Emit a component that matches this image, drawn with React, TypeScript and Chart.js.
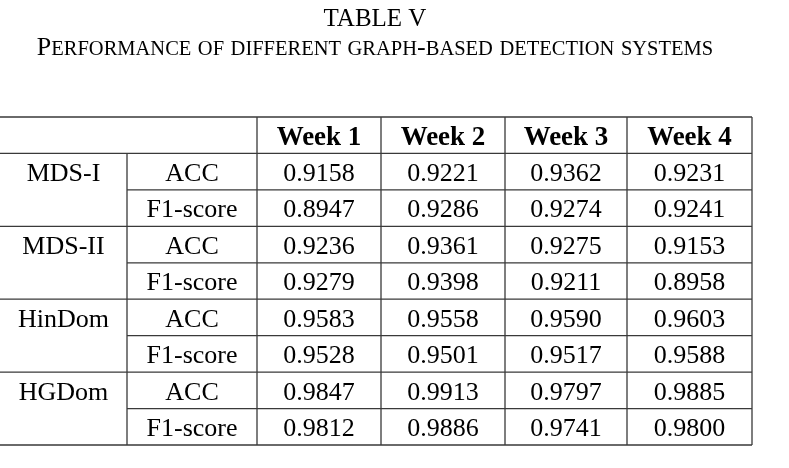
import React, { useEffect, useRef } from 'react';
import { Chart, registerables } from 'chart.js';

Chart.register(...registerables);

// ---- data ----
const tableNumber = 'TABLE V';
const caption = 'Performance of different graph-based detection systems';
const weeks = ['Week 1', 'Week 2', 'Week 3', 'Week 4'];
const systems = ['MDS-I', 'MDS-II', 'HinDom', 'HGDom'];
const metrics = ['ACC', 'F1-score'];
const mdsIAcc = [0.9158, 0.9221, 0.9362, 0.9231];
const mdsIF1 = [0.8947, 0.9286, 0.9274, 0.9241];
const mdsIIAcc = [0.9236, 0.9361, 0.9275, 0.9153];
const mdsIIF1 = [0.9279, 0.9398, 0.9211, 0.8958];
const hinDomAcc = [0.9583, 0.9558, 0.959, 0.9603];
const hinDomF1 = [0.9528, 0.9501, 0.9517, 0.9588];
const hgDomAcc = [0.9847, 0.9913, 0.9797, 0.9885];
const hgDomF1 = [0.9812, 0.9886, 0.9741, 0.98];
const seriesBySystem = [
  [mdsIAcc, mdsIF1],
  [mdsIIAcc, mdsIIF1],
  [hinDomAcc, hinDomF1],
  [hgDomAcc, hgDomF1],
];

// ---- layout (styles / sizes) ----
const COL_WIDTHS = [127, 130, 124, 124, 122, 125];
const FONT = '"Liberation Serif", "Times New Roman", serif';
const CELL_SIZE = 26;
const HEAD_SIZE = 27;
const LINE_COLOR = '#3a3a3a';
const LINE_WIDTH = 1.3;
const CAPTION_CENTER = 375;

const colEdges: number[] = [0];
COL_WIDTHS.forEach((w, i) => colEdges.push(colEdges[i] + w));
const colCenter = (i: number) => (colEdges[i] + colEdges[i + 1]) / 2;
const ROWS = 1 + systems.length * metrics.length;

type Cell = { x: number; y: number; text: string; bold?: boolean };

function buildCells(): Cell[] {
  const cells: Cell[] = [];
  weeks.forEach((w, i) => cells.push({ x: colCenter(2 + i), y: 0.5, text: w, bold: true }));
  systems.forEach((s, g) => {
    const r0 = 1 + g * metrics.length;
    cells.push({ x: colCenter(0), y: r0 + 0.5, text: s });
    metrics.forEach((m, k) => {
      const r = r0 + k;
      cells.push({ x: colCenter(1), y: r + 0.5, text: m });
      seriesBySystem[g][k].forEach((v, i) => {
        cells.push({ x: colCenter(2 + i), y: r + 0.5, text: v.toFixed(4) });
      });
    });
  });
  return cells;
}

const tablePlugin = {
  id: 'tablePlugin',
  beforeDatasetsDraw(chart: any) {
    const { ctx, scales } = chart;
    const xs = scales.x;
    const ys = scales.y;
    const X = (v: number) => xs.getPixelForValue(v);
    const Y = (v: number) => ys.getPixelForValue(v);
    ctx.save();
    ctx.strokeStyle = LINE_COLOR;
    ctx.lineWidth = LINE_WIDTH;
    ctx.beginPath();
    for (let r = 0; r <= ROWS; r++) {
      const full = r <= 1 || (r - 1) % metrics.length === 0;
      const x0 = full ? colEdges[0] : colEdges[1];
      ctx.moveTo(X(x0), Y(r));
      ctx.lineTo(X(colEdges[colEdges.length - 1]), Y(r));
    }
    for (let c = 1; c < colEdges.length; c++) {
      const top = c === 1 ? 1 : 0;
      ctx.moveTo(X(colEdges[c]), Y(top));
      ctx.lineTo(X(colEdges[c]), Y(ROWS));
    }
    ctx.stroke();
    ctx.restore();
  },
  afterDatasetsDraw(chart: any) {
    const { ctx } = chart;
    const meta = chart.getDatasetMeta(0);
    const data = chart.data.datasets[0].data as Cell[];
    ctx.save();
    ctx.fillStyle = '#000';
    ctx.textAlign = 'center';
    ctx.textBaseline = 'alphabetic';
    meta.data.forEach((el: any, i: number) => {
      const d = data[i];
      const size = d.bold ? HEAD_SIZE : CELL_SIZE;
      ctx.font = `${d.bold ? 'bold ' : ''}${size}px ${FONT}`;
      ctx.fillText(d.text, el.x, el.y + CELL_SIZE * 0.36);
    });
    ctx.restore();
  },
  afterDraw(chart: any) {
    const { ctx } = chart;
    const cx = CAPTION_CENTER;
    ctx.save();
    ctx.fillStyle = '#000';
    ctx.textBaseline = 'alphabetic';
    ctx.textAlign = 'center';
    ctx.font = `25px ${FONT}`;
    ctx.fillText(tableNumber, cx, 26);
    const big = `26px ${FONT}`;
    const small = `20.5px ${FONT}`;
    const pieces: { t: string; f: string }[] = [];
    for (const ch of caption) {
      const isLower = ch !== ch.toUpperCase();
      pieces.push({ t: isLower ? ch.toUpperCase() : ch, f: isLower ? small : big });
    }
    let total = 0;
    const widths = pieces.map((p) => {
      ctx.font = p.f;
      const w = ctx.measureText(p.t).width;
      total += w;
      return w;
    });
    ctx.textAlign = 'left';
    let x = cx - total / 2;
    pieces.forEach((p, i) => {
      ctx.font = p.f;
      ctx.fillText(p.t, x, 55);
      x += widths[i];
    });
    ctx.restore();
  },
};

export default function App() {
  const ref = useRef<HTMLCanvasElement | null>(null);
  useEffect(() => {
    if (!ref.current) return;
    const totalW = colEdges[colEdges.length - 1];
    const chart = new Chart(ref.current, {
      type: 'scatter',
      data: {
        datasets: [
          {
            data: buildCells() as any,
            pointRadius: 0,
            pointHoverRadius: 0,
            showLine: false,
          },
        ],
      },
      options: {
        responsive: false,
        animation: false,
        events: [],
        layout: { padding: { left: 0, top: 117, right: 789 - totalW, bottom: 23 } },
        plugins: { legend: { display: false }, tooltip: { enabled: false }, title: { display: false } },
        scales: {
          x: { type: 'linear', min: 0, max: totalW, display: false },
          y: { type: 'linear', min: 0, max: ROWS, reverse: true, display: false },
        },
      },
      plugins: [tablePlugin],
    });
    return () => chart.destroy();
  }, []);
  return (
    <div style={{ position: 'fixed', left: 0, top: 0, width: 789, height: 468, background: '#fff' }}>
      <canvas ref={ref} width={789} height={468} style={{ display: 'block' }} />
    </div>
  );
}
